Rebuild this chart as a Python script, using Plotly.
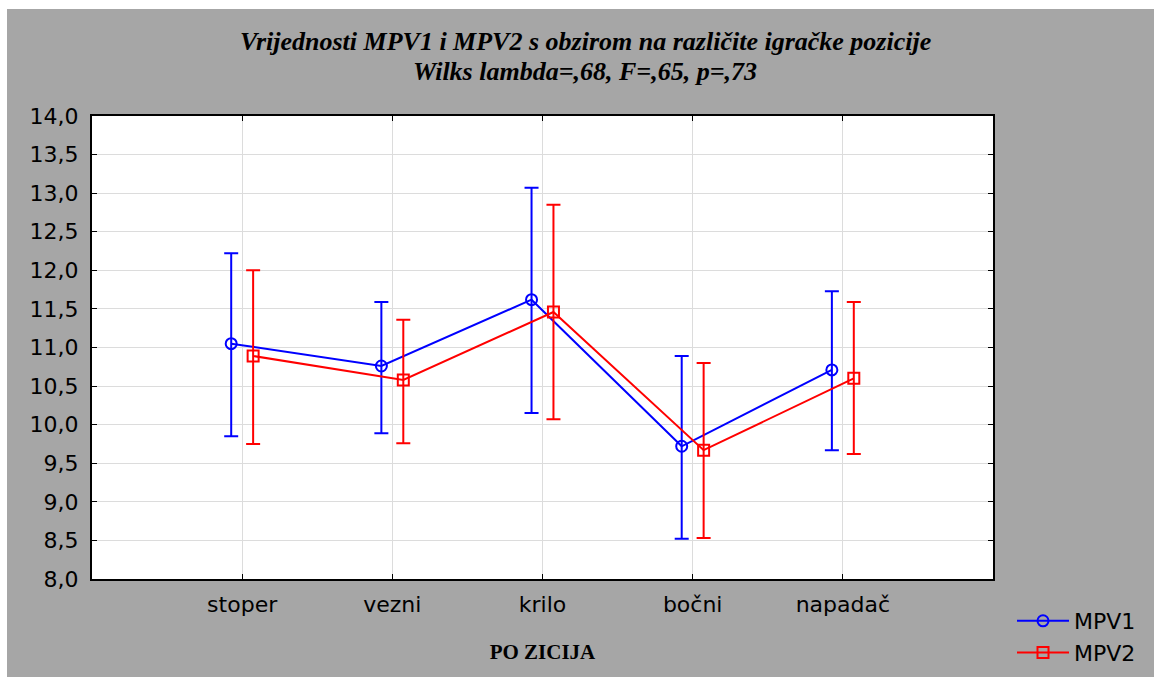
import plotly.graph_objects as go

categories = ["stoper", "vezni", "krilo", "bočni", "napadač"]

mpv1_mean = [11.05, 10.76, 11.62, 9.72, 10.71]
mpv1_upper = [12.22, 11.59, 13.07, 10.89, 11.73]
mpv1_lower = [9.85, 9.89, 10.15, 8.52, 9.67]

mpv2_mean = [10.89, 10.58, 11.46, 9.67, 10.60]
mpv2_upper = [12.00, 11.36, 12.85, 10.80, 11.59]
mpv2_lower = [9.75, 9.76, 10.07, 8.53, 9.62]

y_ticks = [8.0 + 0.5 * i for i in range(13)]

title_line1 = "Vrijednosti MPV1 i MPV2 s obzirom na različite igračke pozicije"
title_line2 = "Wilks lambda=,68, F=,65, p=,73"

offset = 0.073
pos = list(range(len(categories)))
x1 = [p - offset for p in pos]
x2 = [p + offset for p in pos]

fig = go.Figure()

def add_series(name, x, mean, upper, lower, color, symbol):
    fig.add_trace(go.Scatter(
        x=x, y=mean, name=name, mode="lines+markers",
        line=dict(color=color, width=2),
        marker=dict(symbol=symbol, size=11, color=color,
                    line=dict(color=color, width=2)),
        error_y=dict(type="data", symmetric=False,
                     array=[u - m for u, m in zip(upper, mean)],
                     arrayminus=[m - l for m, l in zip(mean, lower)],
                     color=color, thickness=2, width=7),
    ))

add_series("MPV1", x1, mpv1_mean, mpv1_upper, mpv1_lower, "#0000FF", "circle-open")
add_series("MPV2", x2, mpv2_mean, mpv2_upper, mpv2_lower, "#FF0000", "square-open")

gray = "#A6A6A6"
L, R, T, B = 92, 161, 116, 98
W = 1154 - L - R
H = 677 - T - B

def py(p):
    return 1 + (T - p) / H

def px(p):
    return (p - L) / W

title_font = dict(family="Liberation Serif", size=26, color="black", weight="bold", style="italic")

fig.update_layout(
    width=1154, height=677,
    paper_bgcolor=gray, plot_bgcolor="white",
    margin=dict(l=L, r=R, t=T, b=B, autoexpand=False),
    separators=", ",
    showlegend=True,
    legend=dict(
        x=px(1012), xanchor="left", y=py(600), yanchor="top",
        bgcolor="rgba(0,0,0,0)",
        font=dict(family="DejaVu Sans", size=22, color="black"),
        itemwidth=52,
    ),
    font=dict(family="DejaVu Sans", color="black"),
    annotations=[
        dict(text=title_line1, xref="paper", yref="paper", x=px(585), y=py(42),
             xanchor="center", yanchor="middle", showarrow=False, font=title_font),
        dict(text=title_line2, xref="paper", yref="paper", x=px(585), y=py(72),
             xanchor="center", yanchor="middle", showarrow=False, font=title_font),
    ],
    shapes=[
        dict(type="rect", xref="paper", yref="paper",
             x0=px(-5), x1=px(7), y0=py(690), y1=py(-5),
             fillcolor="white", line=dict(width=0), layer="below"),
        dict(type="rect", xref="paper", yref="paper",
             x0=px(-5), x1=px(1160), y0=py(9), y1=py(-5),
             fillcolor="white", line=dict(width=0), layer="below"),
    ],
)

fig.update_xaxes(
    range=[-1, 5], automargin=False,
    tickmode="array", tickvals=pos, ticktext=categories,
    tickfont=dict(family="DejaVu Sans", size=22, color="black"),
    ticks="inside", ticklen=5, tickcolor="black", tickwidth=1,
    ticklabelstandoff=5,
    showgrid=True, gridcolor="#DCDCDC", gridwidth=1,
    showline=True, linecolor="black", linewidth=2, mirror="ticks",
    zeroline=False,
    title=dict(text="PO ZICIJA", font=dict(family="Liberation Serif", size=21, color="black", weight="bold"),
               standoff=28),
)
fig.update_yaxes(
    range=[8, 14], automargin=False,
    tickmode="array", tickvals=y_ticks,
    tickformat=".1f",
    tickfont=dict(family="DejaVu Sans", size=22, color="black"),
    ticks="inside", ticklen=5, tickcolor="black", tickwidth=1,
    ticklabelstandoff=7,
    showgrid=True, gridcolor="#DCDCDC", gridwidth=1,
    showline=True, linecolor="black", linewidth=2, mirror="ticks",
    zeroline=False,
)

fig.write_html(
    "out.html",
    config={"displayModeBar": False},
    post_script="document.body.style.margin='0';document.body.style.padding='0';document.body.style.overflow='hidden';",
)
